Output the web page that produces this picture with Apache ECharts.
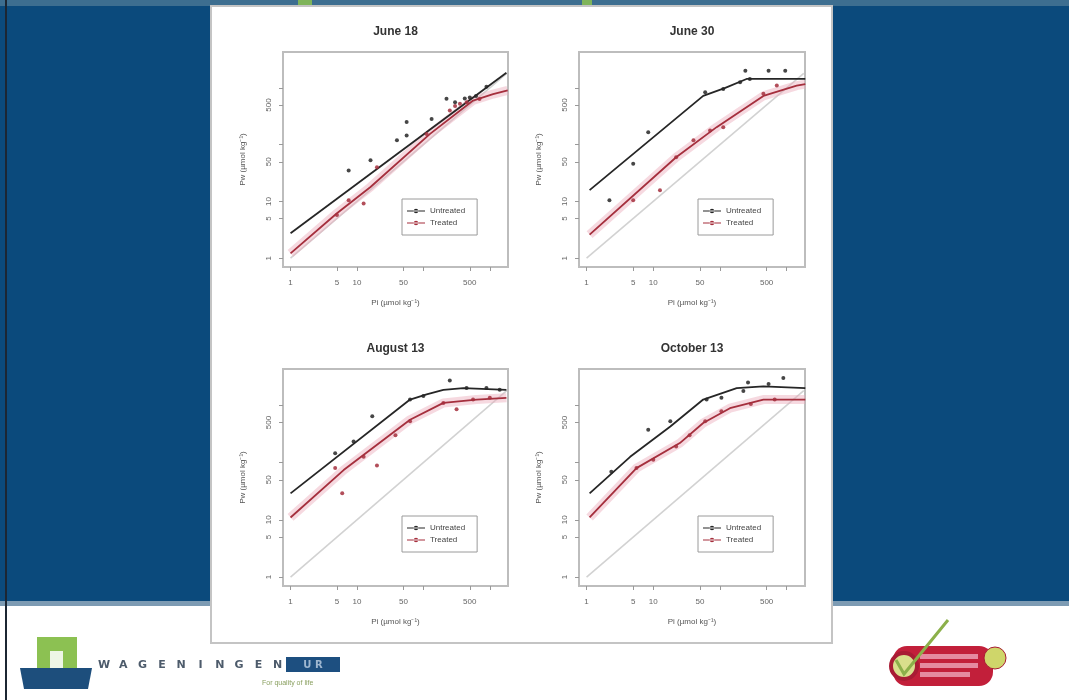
<!DOCTYPE html>
<html><head><meta charset="utf-8">
<script src="https://cdn.jsdelivr.net/npm/echarts@6/dist/echarts.min.js"></script>
<style>html,body{margin:0;padding:0;background:#fff}#c{width:1069px;height:700px}</style>
</head><body><div id="c"></div>
<script>
// ---------- text ----------
const panelTitles = ['June 18', 'June 30', 'August 13', 'October 13'];
const seriesNames = ['Untreated', 'Treated'];
const xAxisName = 'Pi (µmol kg⁻¹)';
const yAxisName = 'Pw (µmol kg⁻¹)';
const xTickValues = [1, 5, 10, 50, 100, 500, 1000];
const xLabelValues = [1, 5, 10, 50, 500];
const yTickValues = [1, 5, 10, 50, 100, 500, 1000];
const yLabelValues = [1, 5, 10, 50, 500];
const logoWord = 'WAGENINGEN';

// ---------- data: [x, y] ----------
const oneToOne = [[1, 1], [1800, 1800]];

const jun18UntreatedFit = [[1, 2.75], [1780, 1860]];
const jun18TreatedFit = [[1, 1.22], [5, 6.2], [16, 18], [126, 155], [560, 600], [1120, 780], [1860, 910]];
const jun18UntreatedObs = [[7.5, 35], [16, 53], [40, 120], [56, 146], [56, 250], [133, 285], [223, 645], [300, 560], [420, 650], [500, 680], [620, 720], [890, 1050]];
const jun18TreatedObs = [[5, 5.8], [7.5, 10.5], [12.6, 9.2], [20, 40], [112, 155], [250, 400], [300, 480], [355, 525], [450, 560], [700, 640]];

const jun30UntreatedFit = [[1.11, 15.8], [56, 725], [120, 1000], [250, 1440], [1900, 1440]];
const jun30TreatedFit = [[1.11, 2.6], [22, 60], [89, 204], [447, 725], [1410, 1100], [1900, 1170]];
const jun30UntreatedObs = [[2.2, 10.5], [5, 46], [8.4, 166], [60, 840], [112, 960], [200, 1260], [240, 2000], [280, 1440], [535, 2000], [950, 2000]];
const jun30TreatedObs = [[5, 10.5], [12.6, 15.8], [22, 60], [40, 120], [71, 178], [112, 204], [447, 790], [710, 1100]];

const aug13UntreatedFit = [[1, 29], [63, 1260], [112, 1550], [200, 1860], [400, 2000], [1780, 1860]];
const aug13TreatedFit = [[1, 11], [6.3, 74], [63, 560], [200, 1100], [630, 1260], [1780, 1350]];
const aug13UntreatedObs = [[4.7, 146], [8.9, 234], [17, 645], [63, 1260], [100, 1450], [250, 2700], [447, 2000], [890, 2000], [1410, 1860]];
const aug13TreatedObs = [[4.7, 80], [6, 29], [12.6, 126], [20, 89], [38, 300], [63, 525], [200, 1100], [316, 850], [560, 1260], [1000, 1350]];

const oct13UntreatedFit = [[1.11, 29], [4.5, 126], [18, 427], [56, 1260], [178, 2000], [447, 2140], [1900, 2000]];
const oct13TreatedFit = [[1.11, 11], [5.6, 80], [25, 219], [56, 490], [141, 890], [447, 1260], [1900, 1260]];
const oct13UntreatedObs = [[2.35, 69], [8.4, 375], [18, 525], [63, 1260], [105, 1350], [224, 1780], [263, 2500], [535, 2350], [890, 3000]];
const oct13TreatedObs = [[5.6, 80], [10, 112], [22, 190], [35, 300], [60, 525], [105, 790], [290, 1050], [660, 1260]];

const panels = [
  { untreatedFit: jun18UntreatedFit, treatedFit: jun18TreatedFit, untreatedObs: jun18UntreatedObs, treatedObs: jun18TreatedObs },
  { untreatedFit: jun30UntreatedFit, treatedFit: jun30TreatedFit, untreatedObs: jun30UntreatedObs, treatedObs: jun30TreatedObs },
  { untreatedFit: aug13UntreatedFit, treatedFit: aug13TreatedFit, untreatedObs: aug13UntreatedObs, treatedObs: aug13TreatedObs },
  { untreatedFit: oct13UntreatedFit, treatedFit: oct13TreatedFit, untreatedObs: oct13UntreatedObs, treatedObs: oct13TreatedObs }
];

// ---------- layout & style ----------
const grids = [
  { left: 283, top: 52, width: 225, height: 215 },
  { left: 579, top: 52, width: 226, height: 215 },
  { left: 283, top: 369, width: 225, height: 217 },
  { left: 579, top: 369, width: 226, height: 217 }
];
const FONT = 'Liberation Sans';
const BLACK = '#262626';
const RED = '#a52f3d';
const BLUE = '#0b4a7c';

const chart = echarts.init(document.getElementById('c'), null, { renderer: 'canvas' });

const xAxes = grids.map((g, i) => ({
  type: 'log', logBase: 10, gridIndex: i, min: 0.77, max: 1880,
  axisLine: { show: false }, splitLine: { show: false },
  axisTick: { show: true, length: 4, customValues: xTickValues, lineStyle: { color: '#999', width: 1 } },
  axisLabel: { customValues: xLabelValues, fontSize: 8, color: '#666', margin: 12, fontFamily: FONT },
  name: xAxisName, nameLocation: 'middle', nameGap: 32,
  nameTextStyle: { fontSize: 8, color: '#555', fontFamily: FONT }
}));
const yAxes = grids.map((g, i) => ({
  type: 'log', logBase: 10, gridIndex: i, min: 0.7, max: 4300,
  axisLine: { show: false }, splitLine: { show: false },
  axisTick: { show: true, length: 4, customValues: yTickValues, lineStyle: { color: '#999', width: 1 } },
  axisLabel: { customValues: yLabelValues, fontSize: 8, color: '#666', margin: 10, rotate: 90, fontFamily: FONT },
  name: yAxisName, nameLocation: 'middle', nameGap: 36, nameRotate: 90,
  nameTextStyle: { fontSize: 8, color: '#555', fontFamily: FONT }
}));

const series = [];
panels.forEach((p, i) => {
  const ax = { xAxisIndex: i, yAxisIndex: i };
  series.push({ ...ax, type: 'line', name: '1:1', data: oneToOne, symbol: 'none', silent: true,
    lineStyle: { color: '#d2d2d2', width: 1.6 }, z: 1 });
  series.push({ ...ax, type: 'line', name: 'band', data: p.treatedFit, symbol: 'none', silent: true,
    lineStyle: { color: 'rgba(236,170,186,0.45)', width: 9 }, z: 2 });
  series.push({ ...ax, type: 'line', name: seriesNames[1], data: p.treatedFit, symbol: 'none',
    itemStyle: { color: RED }, lineStyle: { color: RED, width: 1.8 }, z: 3 });
  series.push({ ...ax, type: 'line', name: seriesNames[0], data: p.untreatedFit, symbol: 'none',
    itemStyle: { color: BLACK }, lineStyle: { color: BLACK, width: 1.8 }, z: 3 });
  series.push({ ...ax, type: 'scatter', name: seriesNames[1], data: p.treatedObs, symbol: 'circle', symbolSize: 4,
    itemStyle: { color: RED, opacity: 0.85 }, z: 4 });
  series.push({ ...ax, type: 'scatter', name: seriesNames[0], data: p.untreatedObs, symbol: 'circle', symbolSize: 4,
    itemStyle: { color: BLACK, opacity: 0.85 }, z: 4 });
});

const legendIcon = 'path://M0,4.3H24V5.7H0Z M9,5A3,3 0 1,0 15,5A3,3 0 1,0 9,5Z';
const legends = grids.map(g => ({
  left: g.left + 119, top: g.top + 147, orient: 'vertical',
  data: [
    { name: seriesNames[0], itemStyle: { color: BLACK } },
    { name: seriesNames[1], itemStyle: { color: RED } }
  ],
  icon: legendIcon, itemWidth: 18, itemHeight: 7, itemGap: 4,
  padding: [8, 12, 8, 5], borderColor: '#9a9a9a', borderWidth: 1, backgroundColor: '#fff',
  textStyle: { fontSize: 8, color: '#444', fontFamily: FONT }, selectedMode: false
}));

const titleEls = grids.map((g, i) => ({
  type: 'text', x: g.left + g.width / 2, y: g.top - 20, z: 10,
  style: { text: panelTitles[i], fill: '#333', font: 'bold 12px "Liberation Sans"', align: 'center', verticalAlign: 'middle' }
}));

const logoLetters = logoWord.split('').map((ch, k) => ({
  type: 'text', x: 104 + k * 19.3, y: 665, z: -5,
  style: { text: ch, fill: '#4d5b6b', font: 'bold 11px "DejaVu Sans"', align: 'center', verticalAlign: 'middle' }
}));

const bg = [
  { type: 'rect', shape: { x: 0, y: 0, width: 1069, height: 700 }, style: { fill: BLUE }, z: -10 },
  { type: 'rect', shape: { x: 0, y: 0, width: 1069, height: 6 }, style: { fill: '#3d6e90' }, z: -9 },
  { type: 'rect', shape: { x: 298, y: 0, width: 14, height: 5 }, style: { fill: '#7fb45a' }, z: -8 },
  { type: 'rect', shape: { x: 582, y: 0, width: 10, height: 5 }, style: { fill: '#7fb45a' }, z: -8 },
  { type: 'rect', shape: { x: 0, y: 601, width: 1069, height: 5 }, style: { fill: '#7d9bb3' }, z: -9 },
  { type: 'rect', shape: { x: 0, y: 606, width: 1069, height: 94 }, style: { fill: '#ffffff' }, z: -9 },
  { type: 'rect', shape: { x: 5, y: 0, width: 2, height: 700 }, style: { fill: '#1c2633' }, z: -8 },
  { type: 'rect', shape: { x: 211, y: 6, width: 621, height: 637 }, style: { fill: '#fff', stroke: '#c4c4c4', lineWidth: 2 }, z: -7 },
  // Wageningen logo
  { type: 'rect', shape: { x: 37, y: 637, width: 40, height: 31 }, style: { fill: '#8cc152' }, z: -6 },
  { type: 'rect', shape: { x: 50, y: 651, width: 13, height: 17 }, style: { fill: '#eef6e6' }, z: -5 },
  { type: 'polygon', shape: { points: [[20, 668], [92, 668], [88, 689], [24, 689]] }, style: { fill: '#1d4e7c' }, z: -5 },
  { type: 'rect', shape: { x: 286, y: 657, width: 54, height: 15 }, style: { fill: '#1d4f80' }, z: -5 },
  { type: 'text', x: 313, y: 665, z: -4, style: { text: 'U R', fill: '#9fb7d0', font: 'bold 10px "DejaVu Sans"', align: 'center', verticalAlign: 'middle' } },
  { type: 'text', x: 262, y: 683, z: -5, style: { text: 'For quality of life', fill: '#8aa060', font: '7px "Liberation Sans"', verticalAlign: 'middle' } },
  // right logo
  { type: 'rect', shape: { x: 893, y: 646, width: 100, height: 40, r: 14 }, style: { fill: '#c21f3a' }, z: -6 },
  { type: 'rect', shape: { x: 920, y: 654, width: 58, height: 5 }, style: { fill: '#e58aa0' }, z: -5 },
  { type: 'rect', shape: { x: 920, y: 663, width: 58, height: 5 }, style: { fill: '#e58aa0' }, z: -5 },
  { type: 'rect', shape: { x: 920, y: 672, width: 50, height: 5 }, style: { fill: '#e58aa0' }, z: -5 },
  { type: 'circle', shape: { cx: 904, cy: 666, r: 13 }, style: { fill: '#d9df8c', stroke: '#a81c34', lineWidth: 4 }, z: -4 },
  { type: 'circle', shape: { cx: 995, cy: 658, r: 11 }, style: { fill: '#cfd66a', stroke: '#a81c34', lineWidth: 1 }, z: -4 },
  { type: 'polyline', shape: { points: [[896, 660], [904, 674], [948, 620]] }, style: { stroke: '#8cb04a', lineWidth: 3, fill: null }, z: -3 }
];

chart.setOption({
  animation: false,
  backgroundColor: BLUE,
  grid: grids.map(g => ({ ...g, show: true, borderColor: '#bdbdbd', borderWidth: 2, backgroundColor: '#fff' })),
  xAxis: xAxes,
  yAxis: yAxes,
  legend: legends,
  series: series,
  graphic: bg.concat(logoLetters, titleEls)
});
</script></body></html>
